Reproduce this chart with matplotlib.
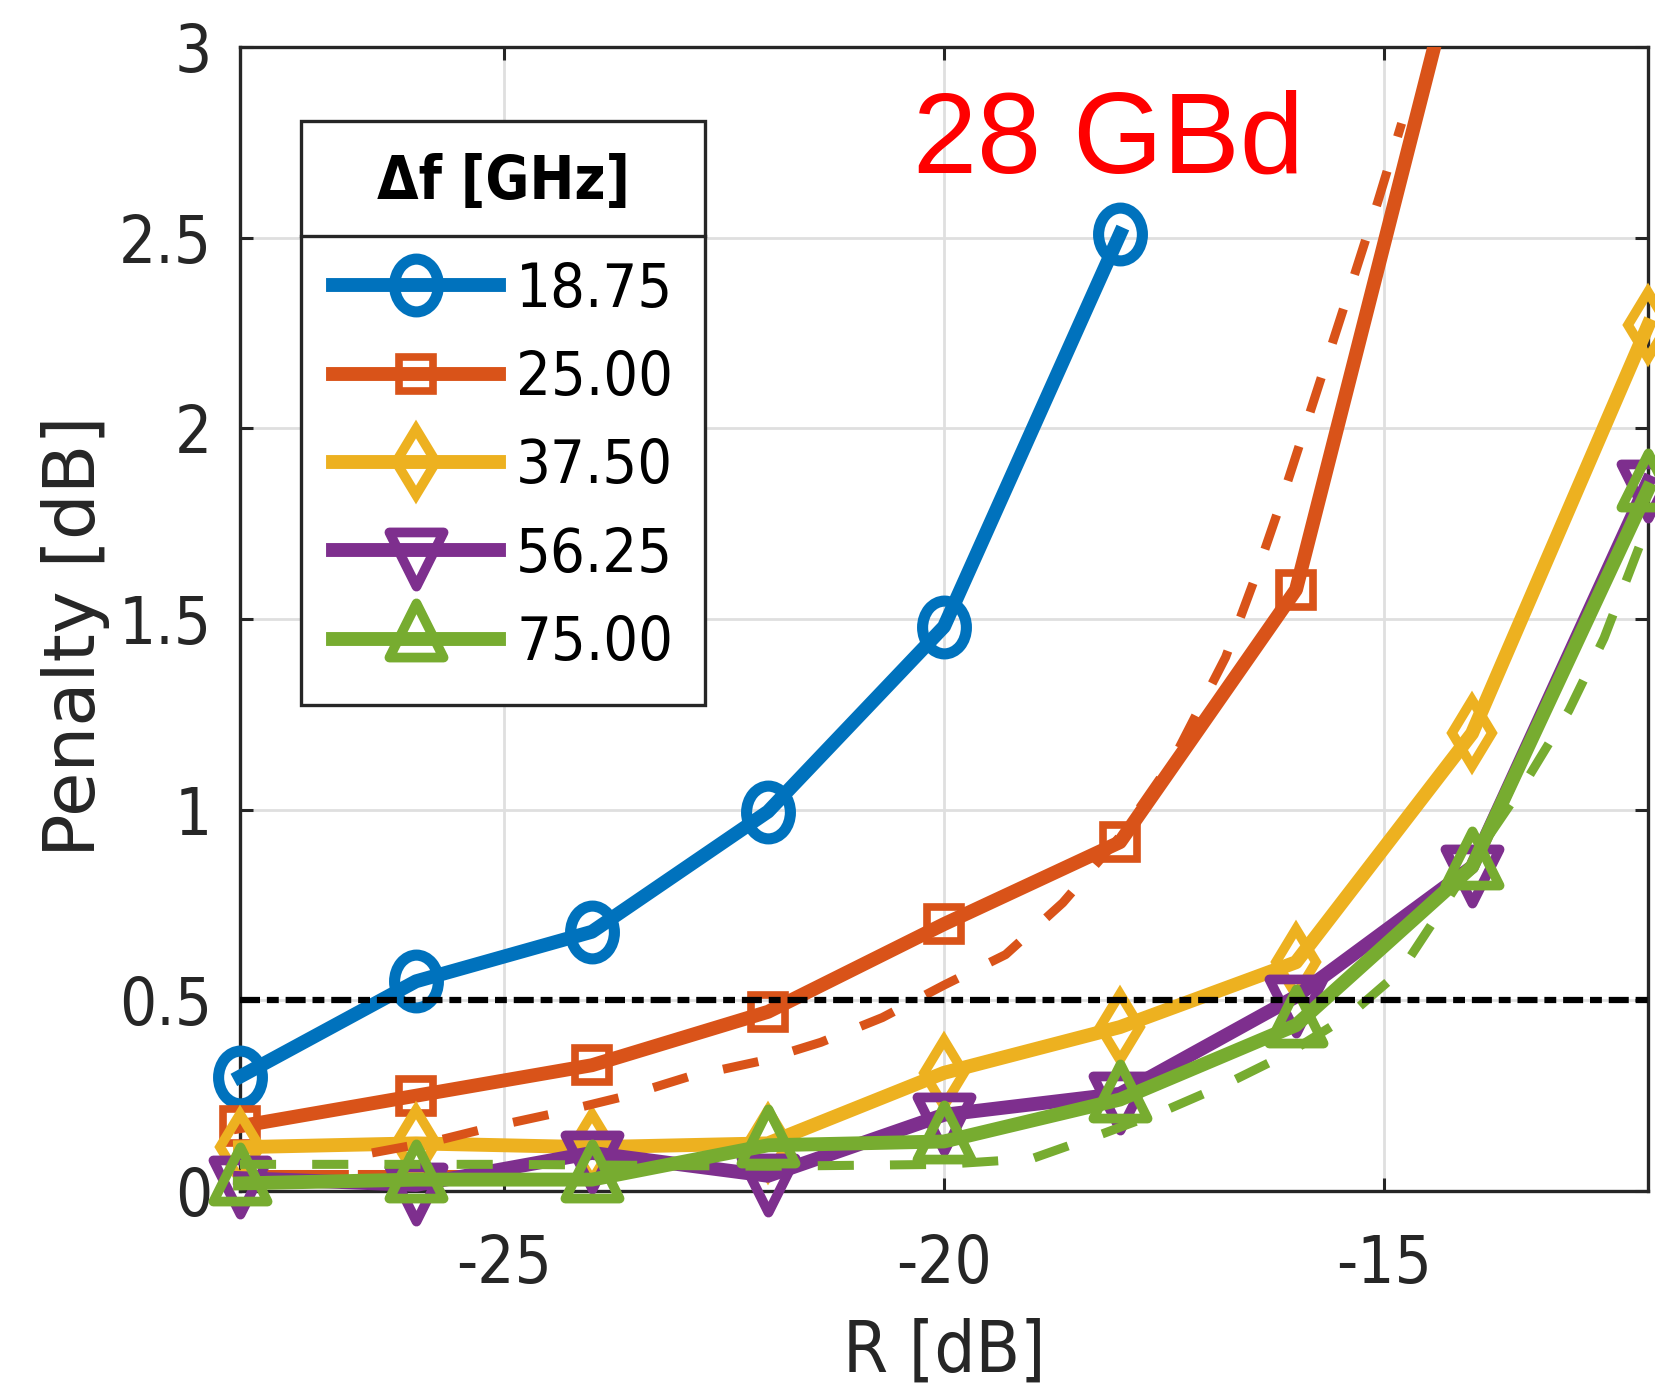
import os
import matplotlib
matplotlib.use("Agg")
import matplotlib.pyplot as plt
from matplotlib import font_manager
from matplotlib.font_manager import FontProperties
from matplotlib.markers import MarkerStyle
from matplotlib.path import Path
from matplotlib.patches import Rectangle
from matplotlib.lines import Line2D

plt.rcParams['axes.unicode_minus'] = False

# measured points (R in dB, penalty in dB)
r_db = [-28, -26, -24, -22, -20, -18, -16, -14, -12]
pen_1875 = [0.30, 0.55, 0.68, 0.995, 1.48, 2.51]
pen_2500 = [0.17, 0.25, 0.33, 0.47, 0.70, 0.915, 1.577, 3.39]
pen_3750 = [0.115, 0.125, 0.115, 0.125, 0.31, 0.43, 0.60, 1.20, 2.27]
pen_5625 = [0.034, 0.016, 0.10, 0.04, 0.20, 0.255, 0.51, 0.85, 1.86]
pen_7500 = [0.02, 0.03, 0.03, 0.12, 0.13, 0.24, 0.435, 0.85, 1.84]
labels = ['18.75', '25.00', '37.50', '56.25', '75.00']

# dashed curves
fit25_x = [-26.5, -25.8, -25.1, -24.4, -23.6, -22.9, -22.1, -21.4, -20.7, -20.0, -19.3,
           -18.65, -18.0, -17.4, -16.8, -16.47, -16.18, -15.9, -15.62, -15.34, -15.07, -14.8]
fit25_y = [0.10, 0.13, 0.17, 0.205, 0.25, 0.30, 0.34, 0.39, 0.455, 0.54, 0.62,
           0.756, 0.93, 1.13, 1.40, 1.605, 1.80, 2.00, 2.20, 2.40, 2.595, 2.80]
low25_x = [-28, -25]
low25_y = [0.045, 0.045]
fit75_x = [-28, -25, -22, -20, -19.0, -18.2, -17.5, -16.8, -16.1, -15.4, -14.8, -14.4,
           -13.9, -13.4, -12.9, -12.5, -12.0]
fit75_y = [0.07, 0.07, 0.065, 0.07, 0.085, 0.15, 0.21, 0.28, 0.36, 0.46, 0.58, 0.72,
           0.90, 1.07, 1.26, 1.45, 1.75]
threshold = 0.5

x_ticks = [-25, -20, -15]
x_ticklabels = ['-25', '-20', '-15']
y_ticks = [0, 0.5, 1, 1.5, 2, 2.5, 3]
y_ticklabels = ['0', '0.5', '1', '1.5', '2', '2.5', '3']

colors = ['#0072BD', '#D95319', '#EDB120', '#7E2F8E', '#77AC30']
ink = '#262626'

# fonts: condensed DejaVu if the system has it
cond_reg = None
cond_bold = None
for f in font_manager.fontManager.ttflist:
    b = os.path.basename(f.fname)
    if b == 'DejaVuSansCondensed.ttf':
        cond_reg = f.fname
    if b == 'DejaVuSansCondensed-Bold.ttf':
        cond_bold = f.fname
if cond_reg:
    fp_tick = FontProperties(fname=cond_reg, size=47)
    fp_leg = FontProperties(fname=cond_reg, size=44)
    fp_xlab = FontProperties(fname=cond_reg, size=52)
else:
    fp_tick = FontProperties(family='DejaVu Sans', size=44)
    fp_leg = FontProperties(family='DejaVu Sans', size=41)
    fp_xlab = FontProperties(family='DejaVu Sans', size=49)
if cond_bold:
    fp_title = FontProperties(fname=cond_bold, size=43)
else:
    fp_title = FontProperties(family='DejaVu Sans', weight='bold', size=40)
fp_ylab = FontProperties(family='DejaVu Sans', size=52)

# markers
circ = Path.unit_circle()
ellipse = Path(circ.vertices * [0.83, 1.0], circ.codes)
tri_up = Path([(0, 2 / 3), (-0.5, -1 / 3), (0.5, -1 / 3), (0, 2 / 3)],
              [Path.MOVETO, Path.LINETO, Path.LINETO, Path.CLOSEPOLY])
tri_dn = Path([(0, -2 / 3), (-0.5, 1 / 3), (0.5, 1 / 3), (0, -2 / 3)],
              [Path.MOVETO, Path.LINETO, Path.LINETO, Path.CLOSEPOLY])
markers = [MarkerStyle(ellipse), 's', 'd',
           MarkerStyle(tri_dn, joinstyle='miter'), MarkerStyle(tri_up, joinstyle='miter')]
msizes = [38, 24, 34, 52, 52]
medges = [8, 5.5, 7, 7, 7]

fig = plt.figure(figsize=(16.55, 13.88), dpi=100)
ax = fig.add_axes([0.145, 0.1419, 0.8508, 0.8242])

clip_rect = Rectangle((-0.05, -0.1), 1.1, 1.1, transform=ax.transAxes)

handles = []
for yv, lab, c, mk, ms, me in zip([pen_1875, pen_2500, pen_3750, pen_5625, pen_7500],
                                  labels, colors, markers, msizes, medges):
    ln, = ax.plot(r_db[:len(yv)], yv, color=c, lw=10, marker=mk, ms=ms, mew=me,
                  mfc='none', mec=c, label=lab, zorder=3)
    ln.set_clip_path(clip_rect)
    handles.append(ln)

ax.plot(fit25_x, fit25_y, color=colors[1], lw=6.5, ls=(0, (4, 4)), zorder=4)
ax.plot(low25_x, low25_y, color=colors[1], lw=6.5, ls=(0, (12, 1)), zorder=2.9)
ax.plot(fit75_x, fit75_y, color=colors[4], lw=6.5, ls=(0, (4, 4)), zorder=4)
ax.axhline(threshold, color='black', lw=4.5, ls=(0, (3.2, 1.1, 1.9, 1.1)), zorder=5)

ax.set_xlim(-28, -12)
ax.set_ylim(0, 3)
ax.set_xticks(x_ticks)
ax.set_xticklabels(x_ticklabels, fontproperties=fp_tick, color=ink)
ax.set_yticks(y_ticks)
ax.set_yticklabels(y_ticklabels, fontproperties=fp_tick, color=ink)
ax.tick_params(direction='in', length=9.5, width=2.2, color=ink, top=True, right=True)
ax.tick_params(axis='x', pad=30)
ax.tick_params(axis='y', pad=20)
ax.grid(True, color='#dfdfdf', lw=2)
ax.set_axisbelow(True)
for s in ax.spines.values():
    s.set_color(ink)
    s.set_linewidth(2.4)

ax.set_xlabel('R [dB]', fontproperties=fp_xlab, color=ink)
ax.xaxis.set_label_coords(0.5, -0.111)
ax.set_ylabel('Penalty [dB]', fontproperties=fp_ylab, color=ink)
ax.yaxis.set_label_coords(-0.092, 0.485)

ax.text(0.478, 0.8907, '28 GBd', transform=ax.transAxes, color='#FF0000',
        fontsize=83, family='Liberation Sans', ha='left', va='baseline')

leg = ax.legend(handles=handles, labels=labels, title='\u0394f [GHz]', loc='upper left',
                bbox_to_anchor=(0.0433, 0.935), borderaxespad=0, prop=fp_leg,
                title_fontproperties=fp_title, handlelength=2.72, handletextpad=0.28,
                labelspacing=0.48, borderpad=0.52, framealpha=1, fancybox=False,
                edgecolor=ink)
leg.get_frame().set_linewidth(2.4)
leg.set_zorder(10)
leg._legend_box.sep = 35  # taller gap between title and entries

# line under the legend title
fig.canvas.draw()
rend = fig.canvas.get_renderer()
fb = leg.get_frame().get_window_extent(rend)
tb = leg.get_title().get_window_extent(rend)
t0 = leg.get_texts()[0].get_window_extent(rend)
W, H = fig.bbox.width, fig.bbox.height
ysep = (tb.y0 + t0.y1) / 2
fig.add_artist(Line2D([fb.x0 / W, fb.x1 / W], [ysep / H, ysep / H], transform=fig.transFigure,
                      color=ink, lw=2.4, zorder=20))

fig.savefig('out.png', dpi=100)
